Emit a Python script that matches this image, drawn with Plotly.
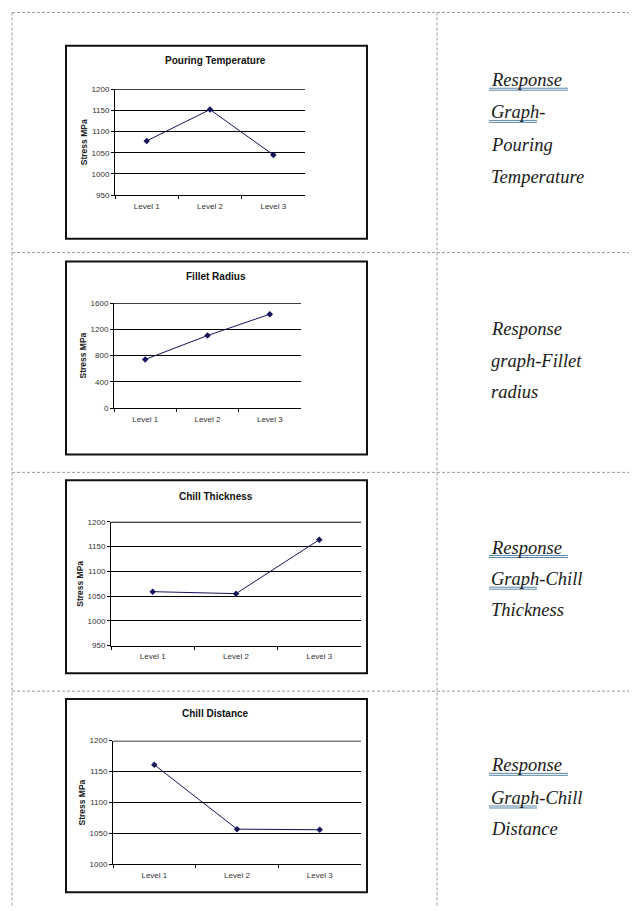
import plotly.graph_objects as go

# page body has an 8px margin, so the figure is offset by 8px; compensate
OFF = 8
W, H = 637 - OFF, 911 - OFF

# ---------------- data ----------------
levels = ["Level 1", "Level 2", "Level 3"]
pouring_temperature = [1078, 1152, 1045]
fillet_radius = [740, 1105, 1430]
chill_thickness = [1059, 1055, 1164]
chill_distance = [1161, 1057, 1056]

chart_titles = ["Pouring Temperature", "Fillet Radius", "Chill Thickness", "Chill Distance"]
y_ranges = [(950, 1200), (0, 1600), (950, 1200), (1000, 1200)]
y_dticks = [50, 400, 50, 50]
y_axis_title = "Stress MPa"

captions = [
    ["Response ", "Graph-", "Pouring", "Temperature"],
    ["Response", "graph-Fillet", "radius"],
    ["Response ", "Graph-Chill", "Thickness"],
    ["Response ", "Graph-Chill", "Distance"],
]
caption_linked = [True, False, True, True]

series = [pouring_temperature, fillet_radius, chill_thickness, chill_distance]

# ---------------- layout geometry (reference pixels) ----------------
plot_boxes = [(115, 305, 86, 193), (114, 301, 302, 408), (111, 361, 523, 648), (113, 361, 744, 869)]
chart_frames = [(66, 367, 42, 237), (66, 367, 260, 455), (66, 367, 481, 676), (66, 367, 702, 897)]
title_y = [57, 275, 497, 717]
caption_y = [[77, 109.5, 142, 174.5], [328, 361, 392], [549, 581, 612], [769, 802, 833]]
caption_x = 489


def px(x):
    return (x - OFF) / W


def py(y):
    return 1 - (y - OFF) / H


SANS = "Liberation Sans, Arial, sans-serif"
SERIF = "Liberation Serif, Times New Roman, serif"
LINE = "#14145a"

fig = go.Figure()
shapes = []
annotations = []
layout = {}

for i in range(4):
    ax = "" if i == 0 else str(i + 1)
    xa, ya = "x" + ax, "y" + ax
    fig.add_trace(go.Scatter(
        x=levels, y=series[i], mode="lines+markers",
        line=dict(color=LINE, width=1),
        marker=dict(symbol="diamond", size=5, color=LINE),
        xaxis=xa, yaxis=ya, showlegend=False, hoverinfo="skip",
    ))
    x0, x1, y0, y1 = plot_boxes[i]
    lo, hi = y_ranges[i]
    layout["xaxis" + ax] = dict(
        domain=[px(x0), px(x1)], anchor=ya, type="category",
        categoryorder="array", categoryarray=levels, range=[-0.5, 2.5],
        tickson="boundaries", ticks="outside", ticklen=3, tickcolor="#000",
        showline=True, linecolor="#000", linewidth=1, showgrid=False,
        zeroline=False, tickfont=dict(family=SANS, size=8, color="#333"),
        ticklabelstandoff=3, fixedrange=True,
    )
    layout["yaxis" + ax] = dict(
        domain=[py(y1), py(y0)], anchor=xa, range=[lo, hi],
        dtick=y_dticks[i], tick0=0, ticks="outside", ticklen=3, tickcolor="#000",
        showline=True, linecolor="#000", linewidth=1, showgrid=True,
        gridcolor="#000", gridwidth=1, zeroline=False,
        tickfont=dict(family=SANS, size=8, color="#333"), fixedrange=True,
    )
    # top gridline at the upper end of the value axis (plotly drops it at the edge)
    shapes.append(dict(type="line", xref=xa + " domain", yref=ya,
                       x0=0, x1=1, y0=hi, y1=hi, line=dict(color="#000", width=1.6)))
    # chart frame
    fx0, fx1, fy0, fy1 = chart_frames[i]
    shapes.append(dict(type="rect", xref="paper", yref="paper",
                       x0=px(fx0), x1=px(fx1), y0=py(fy1), y1=py(fy0),
                       line=dict(color="#111", width=2), layer="below"))
    # title
    annotations.append(dict(text="<b>" + chart_titles[i] + "</b>", xref="paper", yref="paper",
                            x=px(216), y=py(title_y[i]), showarrow=False,
                            xanchor="center", yanchor="middle",
                            font=dict(family=SANS, size=10, color="#111")))
    # y axis title
    annotations.append(dict(text="<b>" + y_axis_title + "</b>", xref="paper", yref="paper",
                            x=px(x0 - 31), y=py((y0 + y1) / 2), showarrow=False,
                            textangle=-90, xanchor="center", yanchor="middle",
                            font=dict(family=SANS, size=8.5, color="#222")))
    # captions
    for line_text, ly in zip(captions[i], caption_y[i]):
        annotations.append(dict(text="<i>" + line_text + "</i>", xref="paper", yref="paper",
                                x=px(caption_x), y=py(ly), showarrow=False,
                                xanchor="left", yanchor="middle",
                                font=dict(family=SERIF, size=18.5, color="#1a1a1a")))
    if caption_linked[i]:
        ly0, ly1 = caption_y[i][0], caption_y[i][1]
        for (cy, w) in [(ly0, 79), (ly1, 48)]:
            for off in (8, 10):
                shapes.append(dict(type="line", xref="paper", yref="paper",
                                   x0=px(caption_x), x1=px(caption_x + w),
                                   y0=py(cy + off), y1=py(cy + off),
                                   line=dict(color="#5b87a8", width=1)))

# table borders (dashed)
TB = dict(color="#9a9a9a", width=1, dash="3px,2px")
for vx in (12, 437):
    shapes.append(dict(type="line", xref="paper", yref="paper",
                       x0=px(vx), x1=px(vx), y0=py(8.5), y1=py(911), line=TB))
for hy in (8.5, 251, 473, 694):
    shapes.append(dict(type="line", xref="paper", yref="paper",
                       x0=px(12), x1=px(637), y0=py(hy), y1=py(hy), line=TB))

fig.update_layout(
    width=W, height=H, margin=dict(l=0, r=0, t=0, b=0),
    paper_bgcolor="white", plot_bgcolor="white",
    shapes=shapes, annotations=annotations, **layout,
)

fig.write_html("out.html", config={"displayModeBar": False})
